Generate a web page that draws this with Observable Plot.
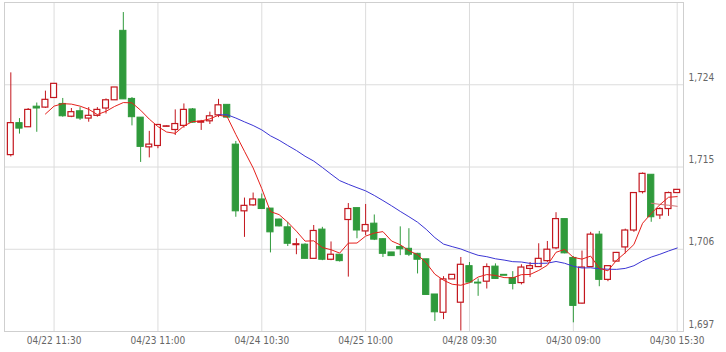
<!DOCTYPE html>
<html>
<head>
<meta charset="utf-8">
<script src="https://cdn.jsdelivr.net/npm/d3@7"></script>
<script src="https://cdn.jsdelivr.net/npm/@observablehq/plot@0.6"></script>
<style>
  html, body { margin: 0; padding: 0; background: #fff; }
</style>
</head>
<body>
<div id="chart"></div>
<script>
// OHLC values, one entry per 30-minute candle
const openV = [1716.3,1719.8,1719.35,1721.6,1721.5,1722.55,1721.9,1720.5,1721.1,1720.3,
  1720.6,1721.4,1722.3,1729.9,1722.45,1720.4,1717.15,1717.3,1719.4,1719.05,
  1719.5,1721.3,1719.85,1720.0,1720.65,1721.8,1717.45,1710.15,1710.8,1711.45,
  1710.45,1709.25,1708.4,1706.45,1706.5,1704.95,1708.15,1704.85,1705.4,1709.2,
  1710.5,1707.95,1708.8,1707.1,1705.65,1706.25,1706.05,1705.5,1704.9,1701.05,
  1699.05,1702.7,1700.15,1704.15,1702.35,1702.45,1704.1,1703.2,1702.85,1702.3,
  1703.85,1704.05,1704.7,1706.1,1709.3,1705.05,1700.05,1704.05,1707.6,1702.65,
  1704.65,1706.2,1708.05,1712.25,1714.15,1709.7,1710.4,1712.15];
const highV = [1725.3,1720.3,1721.4,1722.0,1723.3,1724.1,1722.5,1721.4,1721.5,1721.5,
  1721.5,1722.45,1723.7,1731.9,1722.6,1720.4,1718.9,1719.6,1719.5,1721.25,
  1721.9,1721.4,1720.1,1721.0,1722.4,1721.8,1717.8,1711.6,1712.15,1712.05,
  1710.45,1709.3,1708.95,1707.15,1706.6,1708.6,1708.4,1706.8,1705.4,1711.0,
  1710.5,1710.9,1709.75,1707.15,1705.65,1708.45,1708.25,1705.55,1704.9,1701.05,
  1703.0,1703.2,1705.1,1704.55,1702.75,1704.4,1704.4,1703.2,1703.55,1704.3,
  1704.55,1706.6,1706.85,1710.0,1709.3,1705.2,1705.8,1707.85,1707.95,1704.15,
  1705.65,1708.2,1712.15,1714.35,1714.15,1710.55,1712.25,1712.5];
const lowV = [1716.1,1718.6,1719.35,1718.8,1721.4,1722.5,1720.45,1720.4,1720.1,1719.9,
  1720.45,1720.8,1722.3,1722.4,1719.5,1715.5,1716.0,1717.0,1719.4,1718.45,
  1719.25,1719.8,1719.0,1719.65,1720.4,1720.4,1709.5,1707.3,1710.7,1710.4,
  1705.6,1708.45,1706.3,1705.4,1704.95,1704.9,1704.75,1704.75,1704.6,1702.95,
  1707.15,1707.5,1706.95,1705.1,1705.25,1705.3,1705.2,1703.3,1701.0,1698.1,
  1698.3,1702.7,1697.05,1702.3,1700.85,1701.65,1702.7,1703.1,1701.55,1702.1,
  1702.9,1704.0,1704.55,1705.95,1705.5,1697.95,1700.0,1704.0,1701.9,1702.45,
  1704.65,1705.5,1707.85,1712.05,1708.95,1709.25,1709.6,1712.15];
const closeV = [1719.8,1719.2,1721.25,1721.4,1722.35,1724.1,1720.55,1721.0,1720.3,1720.6,
  1721.25,1722.3,1723.7,1722.4,1720.45,1717.2,1717.45,1719.6,1719.45,1719.7,
  1721.25,1719.85,1719.95,1720.55,1721.75,1720.4,1710.15,1710.75,1711.45,1710.4,
  1707.85,1708.5,1706.6,1706.55,1704.95,1708.0,1704.85,1705.4,1704.7,1710.4,
  1708.05,1708.65,1707.05,1705.5,1705.25,1706.0,1705.4,1704.85,1701.0,1699.1,
  1702.7,1703.2,1704.3,1702.35,1702.25,1704.05,1702.75,1703.1,1702.2,1704.0,
  1704.15,1704.95,1705.95,1709.3,1705.55,1699.8,1704.0,1707.6,1702.65,1704.15,
  1705.6,1708.05,1712.15,1714.25,1709.5,1710.4,1712.15,1712.5];

// x-axis tick labels (candle index -> label)
const tickIndex = [5, 17, 29, 41, 53, 65, 77];
const tickLabels = ["04/22 11:30","04/23 11:00","04/24 10:30","04/25 10:00","04/28 09:30","04/30 09:00","04/30 15:30"];
// y-axis ticks
const yTicks = [1697, 1706, 1715, 1724];

const rows = openV.map((o, i) => ({i, open: o, high: highV[i], low: lowV[i], close: closeV[i]}));
const up = rows.filter(d => d.close >= d.open);
const down = rows.filter(d => d.close < d.open);

const RED = "#c3161d", GREEN = "#2f9a3b";
const font = "'DejaVu Sans Condensed', 'DejaVu Sans', sans-serif";

const chart = Plot.plot({
  width: 726,
  height: 352,
  marginLeft: 4,
  marginRight: 43,
  marginTop: 2,
  marginBottom: 21,
  style: {fontFamily: font, fontSize: "10px", color: "#666", background: "#fff"},
  x: {domain: [-0.73, 77.73], axis: null},
  y: {domain: [1697, 1733], axis: null},
  marks: [
    Plot.gridY(yTicks.concat([1733]), {stroke: "#dcdcdc", strokeOpacity: 1}),
    Plot.gridX(tickIndex, {stroke: "#dcdcdc", strokeOpacity: 1}),
    Plot.frame({stroke: "#cfcfcf"}),
    Plot.ruleX(rows, {x: "i", y1: "low", y2: "high", stroke: d => d.close >= d.open ? RED : GREEN, strokeWidth: 1}),
    Plot.rect(up, {x1: d => d.i - 0.34, x2: d => d.i + 0.34, y1: "open", y2: "close", fill: "#fff", stroke: RED, strokeWidth: 1.2}),
    Plot.rect(down, {x1: d => d.i - 0.36, x2: d => d.i + 0.36, y1: "open", y2: "close", fill: GREEN, stroke: GREEN, strokeWidth: 1}),
    Plot.lineY(rows, Plot.windowY({k: 75, anchor: "end", reduce: "mean", strict: true}, {x: "i", y: "close", stroke: "#d27777", strokeWidth: 1})),
    Plot.lineY(rows, Plot.windowY({k: 25, anchor: "end", reduce: "mean", strict: true}, {x: "i", y: "close", stroke: "#3b35d4", strokeWidth: 1})),
    Plot.lineY(rows, Plot.windowY({k: 5, anchor: "end", reduce: "mean", strict: true}, {x: "i", y: "close", stroke: "#e5201c", strokeWidth: 1})),
    Plot.axisY({anchor: "right", ticks: yTicks, tickSize: 0, tickPadding: 5, dy: -7, tickFormat: d3.format(","), label: null, fill: "#666"}),
    Plot.axisX({ticks: tickIndex, tickSize: 0, tickPadding: 5, tickFormat: d => tickLabels[tickIndex.indexOf(d)], label: null, fill: "#666"})
  ]
});
document.getElementById("chart").appendChild(chart);
</script>
</body>
</html>
